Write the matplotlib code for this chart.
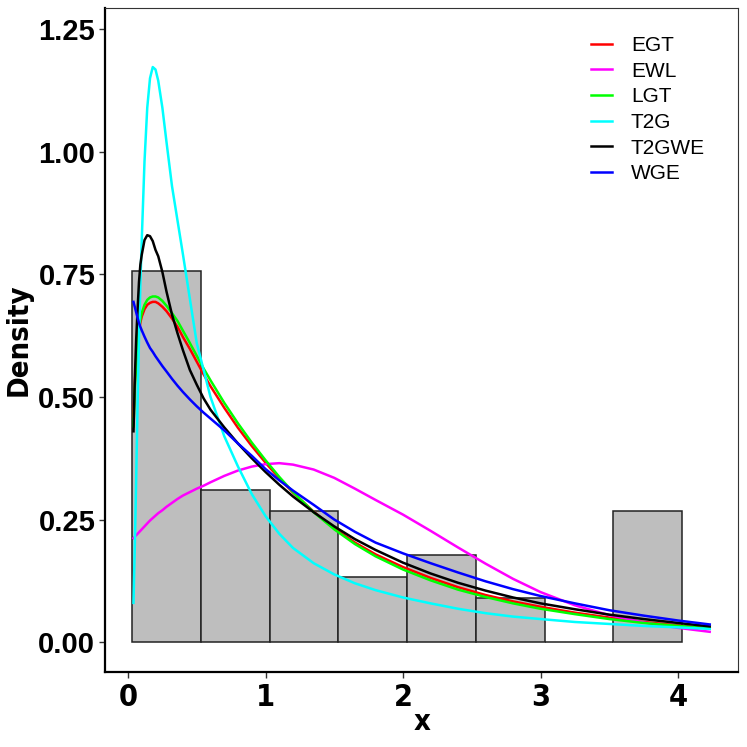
import matplotlib
matplotlib.use("Agg")
import matplotlib.pyplot as plt

# histogram (density per bin, bin width 0.5)
bin_left = [0.03, 0.53, 1.03, 1.53, 2.03, 2.53, 3.03, 3.53]
bin_density = [0.756, 0.311, 0.267, 0.133, 0.178, 0.089, 0.0, 0.267]

# fitted densities
x = [0.04, 0.05, 0.06, 0.07, 0.08, 0.09, 0.10, 0.12, 0.14, 0.16, 0.18, 0.20,
     0.22, 0.25, 0.28, 0.32, 0.36, 0.40, 0.45, 0.50, 0.55, 0.60, 0.70, 0.80,
     0.90, 1.0, 1.1, 1.2, 1.35, 1.5, 1.65, 1.8, 2.0, 2.2, 2.4, 2.6, 2.8, 3.0,
     3.25, 3.5, 3.75, 4.0, 4.23]

egt = [0.46, 0.53, 0.575, 0.61, 0.635, 0.652, 0.664, 0.679, 0.688, 0.692, 0.694, 0.694,
       0.691, 0.684, 0.675, 0.66, 0.643, 0.622, 0.598, 0.572, 0.546, 0.522, 0.478, 0.437,
       0.40, 0.366, 0.334, 0.305, 0.266, 0.232, 0.203, 0.179, 0.153, 0.131, 0.112, 0.096, 0.083, 0.072,
       0.060, 0.050, 0.041, 0.034, 0.028]

ewl = [0.212, 0.215, 0.218, 0.221, 0.224, 0.227, 0.23, 0.236, 0.242, 0.248, 0.253, 0.258,
       0.263, 0.269, 0.276, 0.284, 0.292, 0.299, 0.306, 0.313, 0.319, 0.326, 0.339, 0.35,
       0.358, 0.363, 0.365, 0.362, 0.352, 0.335, 0.313, 0.29, 0.26, 0.227, 0.193, 0.16, 0.129, 0.102,
       0.075, 0.055, 0.040, 0.029, 0.021]

lgt = [0.44, 0.52, 0.57, 0.61, 0.638, 0.658, 0.671, 0.688, 0.698, 0.703, 0.705, 0.705,
       0.703, 0.696, 0.686, 0.671, 0.655, 0.635, 0.61, 0.584, 0.558, 0.534, 0.488, 0.446,
       0.407, 0.371, 0.337, 0.306, 0.265, 0.23, 0.20, 0.175, 0.148, 0.126, 0.107, 0.092, 0.079, 0.068,
       0.057, 0.047, 0.039, 0.033, 0.028]

t2g = [0.08, 0.20, 0.34, 0.49, 0.62, 0.73, 0.82, 0.98, 1.09, 1.15, 1.173, 1.168,
       1.145, 1.09, 1.02, 0.93, 0.86, 0.79, 0.70, 0.61, 0.555, 0.50, 0.42, 0.358,
       0.302, 0.257, 0.221, 0.192, 0.161, 0.138, 0.12, 0.106, 0.091, 0.079, 0.068, 0.059, 0.052, 0.047,
       0.041, 0.037, 0.033, 0.030, 0.027]

t2gwe = [0.43, 0.54, 0.62, 0.68, 0.735, 0.77, 0.79, 0.82, 0.83, 0.828, 0.818, 0.80,
         0.787, 0.755, 0.715, 0.668, 0.63, 0.595, 0.555, 0.525, 0.497, 0.474, 0.438, 0.405,
         0.375, 0.347, 0.321, 0.297, 0.265, 0.236, 0.21, 0.188, 0.162, 0.14, 0.121, 0.105, 0.091, 0.079,
         0.067, 0.056, 0.047, 0.039, 0.032]

wge = [0.694, 0.683, 0.672, 0.661, 0.651, 0.643, 0.636, 0.623, 0.611, 0.60, 0.592, 0.583,
       0.575, 0.563, 0.552, 0.537, 0.523, 0.51, 0.495, 0.481, 0.468, 0.456, 0.432, 0.405,
       0.38, 0.353, 0.33, 0.309, 0.28, 0.25, 0.225, 0.203, 0.181, 0.161, 0.142, 0.124, 0.108, 0.094,
       0.079, 0.065, 0.054, 0.044, 0.036]

names = ["EGT", "EWL", "LGT", "T2G", "T2GWE", "WGE"]
curves = [egt, ewl, lgt, t2g, t2gwe, wge]
colors = ["#FF0000", "#FF00FF", "#00FF00", "#00FFFF", "#000000", "#0000FF"]

fig = plt.figure(figsize=(7.47, 7.47), dpi=100)
ax = fig.add_axes([0.1406, 0.1004, 0.8474, 0.8886])

ax.bar(bin_left, bin_density, width=0.5, align="edge", color="#BEBEBE",
       edgecolor="#222222", linewidth=1.1)

for name, y, c in zip(names, curves, colors):
    ax.plot(x, y, color=c, lw=1.8, label=name)

ax.set_xlim(-0.167, 4.436)
ax.set_ylim(-0.061, 1.293)
ax.set_xticks([0, 1, 2, 3, 4])
ax.set_yticks([0.0, 0.25, 0.5, 0.75, 1.0, 1.25])
ax.set_yticklabels(["0.00", "0.25", "0.50", "0.75", "1.00", "1.25"])

sans = ["Liberation Sans", "DejaVu Sans"]
for lab in ax.get_yticklabels():
    lab.set_fontfamily(sans)
    lab.set_fontweight("bold")
    lab.set_fontsize(21)
for lab in ax.get_xticklabels():
    lab.set_fontfamily("DejaVu Sans")
    lab.set_fontstretch("condensed")
    lab.set_fontweight("bold")
    lab.set_fontsize(22)

ax.set_xlabel("x", family="DejaVu Sans", fontstretch="condensed", fontweight="bold",
              fontsize=21, labelpad=-3)
ax.set_ylabel("Density", family="DejaVu Sans", fontstretch="condensed", fontweight="bold",
              fontsize=21, labelpad=4)

ax.tick_params(axis="both", length=4, width=1, color="#333333")
ax.tick_params(axis="x", pad=4)
ax.tick_params(axis="y", pad=3)
for side in ["left", "bottom"]:
    ax.spines[side].set_linewidth(1.6)
    ax.spines[side].set_color("black")
for side in ["top", "right"]:
    ax.spines[side].set_linewidth(0.8)
    ax.spines[side].set_color("#333333")

leg = ax.legend(loc="upper right", bbox_to_anchor=(0.948, 0.958), frameon=False,
                prop={"family": sans, "size": 15}, borderpad=0, borderaxespad=0,
                handlelength=1.0, labelspacing=0.32, handletextpad=0.9)

fig.savefig("out.png", dpi=100)
